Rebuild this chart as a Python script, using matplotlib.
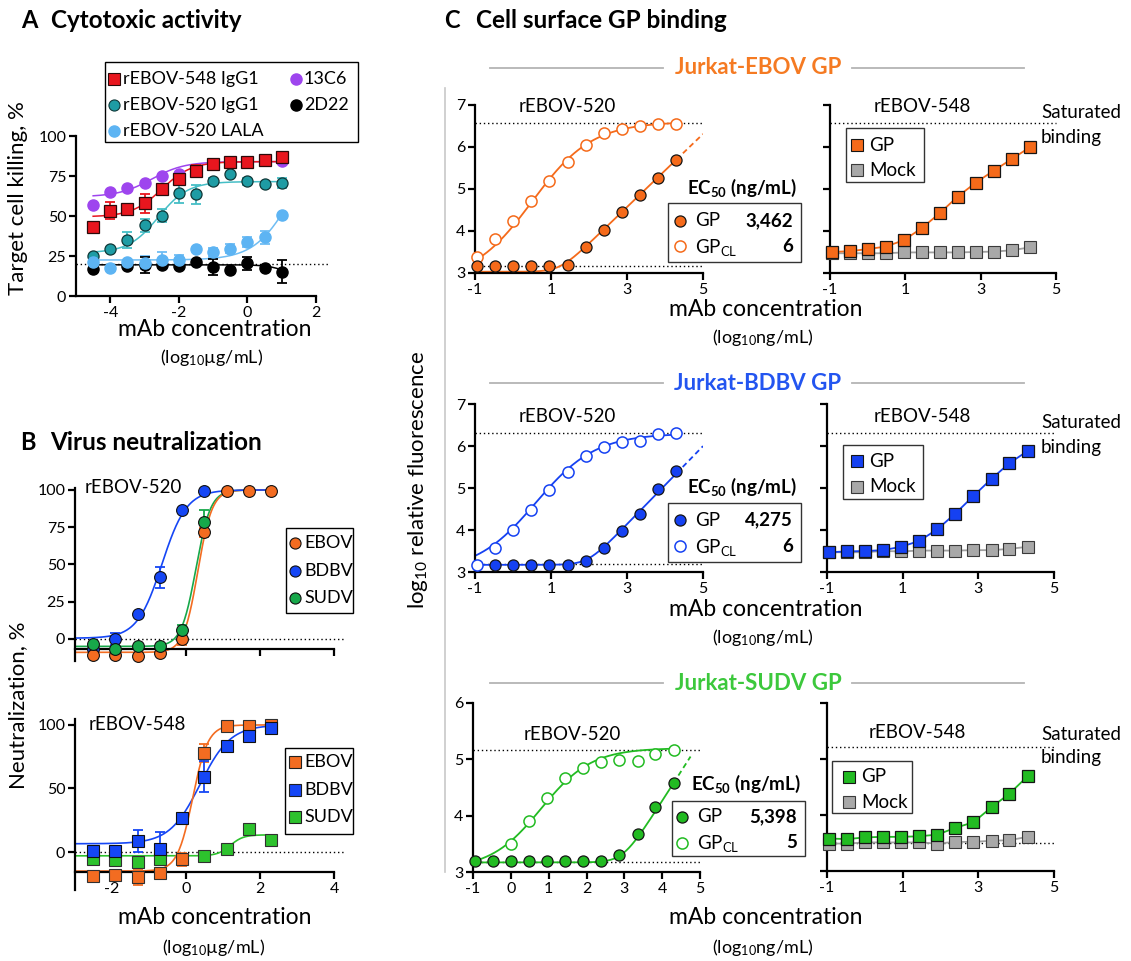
import numpy as np
import matplotlib
matplotlib.use("Agg")
import matplotlib.pyplot as plt
from matplotlib.lines import Line2D
from matplotlib.patches import Rectangle

plt.rcParams['font.family'] = ['Lato', 'DejaVu Sans']
plt.rcParams['mathtext.fontset'] = 'custom'
plt.rcParams['mathtext.rm'] = 'Lato'
plt.rcParams['mathtext.it'] = 'Lato:italic'
plt.rcParams['mathtext.bf'] = 'Lato:bold'
plt.rcParams['axes.unicode_minus'] = False

W, H = 1131, 961

# ======================= DATA =======================
# ---- Panel A: cytotoxic activity (log10 ug/mL vs % killing)
conc_A = [-4.5, -4, -3.5, -3, -2.5, -2, -1.5, -1, -0.5, 0, 0.5, 1]
kill_548 = [43.4, 53.4, 54.5, 58, 67, 73.3, 78.1, 82.3, 83.5, 83.7, 84.8, 86.6]
err_548 = [0, 5.5, 3, 6, 3, 3, 4, 2, 2, 2, 2, 2]
kill_520 = [25, 29.6, 35, 44.3, 50.1, 64.1, 63.5, 71.6, 76.4, 71.6, 69.9, 70.6]
err_520 = [0, 0, 5, 4, 4, 6, 6, 2, 0, 2, 0, 3]
kill_lala = [21, 17.5, 21.3, 20.7, 22.3, 22.5, 29.6, 27.2, 29.6, 33.6, 36.7, 50.9]
err_lala = [0, 0, 0, 4, 5, 3, 0, 3, 3, 3, 4, 0]
conc_13c6 = [-4.5, -4, -3.5, -3, -2.5, -2, 1]
kill_13c6 = [56.8, 65.3, 67.2, 70.8, 74.7, 76.4, 84.3]
conc_2d22 = [-4.5, -3.5, -3, -2.5, -2, -1.5, -1, -0.5, 0, 0.5, 1]
kill_2d22 = [16.7, 18.8, 19.4, 19.4, 19, 21.5, 18.4, 16.3, 20.5, 17.7, 15.2]
err_2d22 = [0, 0, 5, 0, 0, 0, 5, 0, 4, 0, 7]
# 4PL fit parameters [bottom, top, logEC50, hill]
fit_548 = [49.5, 84, -2.5, 1.0]
fit_520 = [27, 71.5, -2.6, 1.0]
fit_lala = [22.5, 100, 1.29, 0.8]
fit_13c6 = [62, 84, -2.8, 0.9]
fit_2d22 = [19.5, 10, 1.2, 1.5]
baseline_A = 20

# ---- Panel B: virus neutralization
conc_B = [-2.52, -1.92, -1.31, -0.71, -0.11, 0.49, 1.10, 1.70, 2.30]
neut520_ebov = [-11, -10.6, -11.7, -9.2, 0, 71.5, 99.5, 99.5, 99.5]
err520_ebov = [0, 0, 0, 0, 4, 3, 0, 0, 0]
neut520_bdbv = [-6.5, 0, 17, 41.3, 86.5, 99]
err520_bdbv = [0, 4, 0, 7, 0, 0]
neut520_sudv = [-3.1, -6.5, -5, -5, 5.8, 78.2]
err520_sudv = [0, 0, 0, 0, 3.5, 8.5]
fit520_ebov = [-9, 100, 0.32, 2.25]
fit520_bdbv = [0.5, 100, -0.65, 1.3]
fit520_sudv = [-5, 100, 0.27, 2.2]

neut548_ebov = [-19, -18, -19.8, -16.6, -5.8, 77.8, 99, 99.5, 100]
err548_ebov = [0, 0, 6, 0, 5, 7, 0, 0, 0]
neut548_bdbv = [0.5, 0.5, 8.7, 2.6, 26.9, 59.4, 83.6, 91, 97.6]
err548_bdbv = [0, 0, 9, 13, 4, 12, 0, 0, 0]
conc548_sudv = [-2.52, -1.92, -1.31, -0.71, 0.49, 1.10, 1.70, 2.30]
neut548_sudv = [-5.3, -6.6, -7.9, -5.3, -3.4, 2.6, 17.9, 9.2]
fit548_ebov = [-15, 100, 0.18, 2.1]
fit548_bdbv = [6.5, 100, 0.38, 1.06]
fit548_sudv = [-3, 13.5, 1.2, 2.5]

# ---- Panel C: cell surface GP binding (log10 ng/mL vs log10 fluorescence)
conc_C = [-0.95, -0.47, 0.01, 0.48, 0.96, 1.44, 1.92, 2.39, 2.87, 3.35, 3.82, 4.30]
ebov_gp = [3.16, 3.16, 3.16, 3.16, 3.16, 3.19, 3.63, 4.03, 4.46, 4.85, 5.26, 5.70]
ebov_gpcl = [3.37, 3.80, 4.25, 4.72, 5.19, 5.65, 6.05, 6.33, 6.42, 6.51, 6.55, 6.55]
ebov_548_gp = [3.50, 3.52, 3.57, 3.63, 3.78, 4.07, 4.43, 4.82, 5.15, 5.44, 5.71, 5.99]
ebov_548_mock = [3.47, 3.47, 3.47, 3.47, 3.49, 3.49, 3.49, 3.49, 3.50, 3.51, 3.54, 3.61]
bdbv_gp = [3.17, 3.17, 3.17, 3.17, 3.17, 3.27, 3.56, 3.98, 4.39, 4.98, 5.41]   # from 2nd conc
bdbv_gpcl = [3.17, 3.57, 4.01, 4.47, 4.96, 5.39, 5.77, 5.98, 6.10, 6.12, 6.28, 6.31]
bdbv_548_gp = [3.47, 3.49, 3.50, 3.52, 3.60, 3.74, 4.02, 4.39, 4.81, 5.22, 5.59, 5.88]
bdbv_548_mock = [3.47, 3.47, 3.47, 3.50, 3.49, 3.51, 3.51, 3.51, 3.52, 3.52, 3.55, 3.60]
sudv_gp = [3.19, 3.19, 3.19, 3.19, 3.19, 3.19, 3.19, 3.19, 3.31, 3.67, 4.15, 4.58]
sudv_gpcl = [3.49, 3.90, 4.32, 4.66, 4.85, 4.95, 4.98, 4.97, 5.09, 5.17]        # from 3rd conc
sudv_548_gp = [3.58, 3.57, 3.60, 3.61, 3.61, 3.62, 3.65, 3.77, 3.87, 4.14, 4.38, 4.69]
sudv_548_mock = [3.49, 3.49, 3.51, 3.51, 3.51, 3.51, 3.49, 3.52, 3.52, 3.54, 3.55, 3.61]
# partial-binding fit [baseline, slope, knee, sharpness]; GP_CL 4PL fits
ebov_gp_fit = [3.03, 0.87, 1.23, 2.0]
bdbv_gp_fit = [3.17, 0.93, 1.96, 2.0]
sudv_gp_fit = [3.17, 1.05, 2.96, 2.0]
ebov_cl_fit = [2.8, 6.6, 0.5, 0.55]
bdbv_cl_fit = [3.0, 6.3, 0.6, 0.55]
sudv_cl_fit = [3.05, 5.2, 0.8, 0.65]
ec50_ebov = ['3,462', '6']
ec50_bdbv = ['4,275', '6']
ec50_sudv = ['5,398', '5']
sat_ebov, sat_bdbv, sat_sudv, sat_sudv_R = 6.57, 6.30, 5.17, 5.22
base_ebov, base_bdbv, base_sudv = 3.16, 3.18, 3.18

# ======================= HELPERS =======================
fig = plt.figure(figsize=(W / 100, H / 100), dpi=100)


def rect(x0, y0, x1, y1):
    return [x0 / W, 1 - y1 / H, (x1 - x0) / W, (y1 - y0) / H]


def ftext(x, y, s, **kw):
    kw.setdefault('va', 'center')
    kw.setdefault('ha', 'left')
    kw.setdefault('zorder', 7)
    fig.text(x / W, 1 - y / H, s, **kw)


def fmarker(x, y, **kw):
    kw.setdefault('zorder', 7)
    fig.add_artist(Line2D([x / W], [1 - y / H], transform=fig.transFigure,
                          linestyle='none', **kw))


def fbox(x0, y0, x1, y1, ec='black', lw=1.0):
    fig.add_artist(Rectangle((x0 / W, 1 - y1 / H), (x1 - x0) / W, (y1 - y0) / H,
                             transform=fig.transFigure, facecolor='white',
                             edgecolor=ec, lw=lw, zorder=6))


def fline(x0, y0, x1, y1, **kw):
    fig.add_artist(Line2D([x0 / W, x1 / W], [1 - y0 / H, 1 - y1 / H],
                          transform=fig.transFigure, **kw))


def logistic(x, p):
    b, t, c, h = p
    return b + (t - b) / (1 + 10 ** ((c - x) * h))


def partial_fit(x, p):
    b, m, k, s = p
    return b + m * np.log10(1 + 10 ** (s * (x - k))) / s


def style_axes(ax, lw=1.6):
    for s in ('top', 'right'):
        ax.spines[s].set_visible(False)
    for s in ('left', 'bottom'):
        ax.spines[s].set_linewidth(lw)
    ax.tick_params(direction='out', length=5, width=lw, labelsize=11.5, pad=2)


def ebar(ax, x, y, e, color):
    x = np.asarray(x); y = np.asarray(y); e = np.asarray(e, float)
    m = e > 0
    if m.any():
        ax.errorbar(x[m], y[m], yerr=e[m], fmt='none', ecolor=color,
                    elinewidth=1.3, capsize=3.5, capthick=1.3, zorder=3, clip_on=False)


DOT = (0, (1, 2))

# ======================= PANEL A =======================
ftext(21, 21, 'A', fontsize=17, fontweight='bold')
ftext(51, 21, 'Cytotoxic activity', fontsize=17.5, fontweight='bold')
axA = fig.add_axes(rect(76, 136, 316, 296))
style_axes(axA)
axA.set_xlim(-5, 2)
axA.set_ylim(0, 100)
axA.set_xticks([-4, -2, 0, 2])
axA.set_yticks([0, 25, 50, 75, 100])
axA.plot([-5, 2.35], [baseline_A] * 2, color='black', lw=1.0, ls=DOT, clip_on=False, zorder=1)
xa = np.linspace(conc_A[0], conc_A[-1], 200)
RED, TEAL, TEAL_L, LBLUE, PURPLE = '#E8161E', '#1E9CA4', '#45BEC6', '#5DB4F3', '#9E45EE'
axA.plot(xa, logistic(xa, fit_13c6), color=PURPLE, lw=1.1, zorder=2)
axA.plot(xa, logistic(xa, fit_520), color=TEAL_L, lw=1.1, zorder=2)
axA.plot(xa, logistic(xa, fit_lala), color='#6FBDF3', lw=1.1, zorder=2)
axA.plot(xa, logistic(xa, fit_2d22), color='black', lw=1.1, zorder=2)
axA.plot(xa, logistic(xa, fit_548), color=RED, lw=1.1, zorder=2)
ebar(axA, conc_A, kill_520, err_520, TEAL_L)
ebar(axA, conc_A, kill_lala, err_lala, '#6FBDF3')
ebar(axA, conc_2d22, kill_2d22, err_2d22, 'black')
ebar(axA, conc_A, kill_548, err_548, RED)
axA.plot(conc_13c6, kill_13c6, 'o', ms=8, mfc=PURPLE, mec=PURPLE, zorder=4, clip_on=False)
axA.plot(conc_A, kill_520, 'o', ms=8, mfc=TEAL, mec='#103838', mew=0.9, zorder=4, clip_on=False)
axA.plot(conc_2d22, kill_2d22, 'o', ms=8, mfc='black', mec='black', zorder=4, clip_on=False)
axA.plot(conc_A, kill_lala, 'o', ms=8, mfc=LBLUE, mec=LBLUE, zorder=4, clip_on=False)
axA.plot(conc_A, kill_548, 's', ms=8, mfc=RED, mec='#2A0A0A', mew=0.9, zorder=5, clip_on=False)
ftext(18, 198, 'Target cell killing, %', fontsize=16, rotation=90, ha='center')
ftext(215, 330, 'mAb concentration', fontsize=16.5, ha='center')
ftext(212, 357, '(log$_{10}$\u00b5g/mL)', fontsize=13, ha='center')
# legend A
fbox(105, 62, 358, 142)
fmarker(114, 79, marker='s', ms=8, mfc=RED, mec='#2A0A0A', mew=0.8)
ftext(123, 79, 'rEBOV-548 IgG1', fontsize=13)
fmarker(114, 105, marker='o', ms=8, mfc=TEAL, mec='#103838', mew=0.8)
ftext(123, 105, 'rEBOV-520 IgG1', fontsize=13)
fmarker(114, 131, marker='o', ms=8, mfc=LBLUE, mec=LBLUE)
ftext(123, 131, 'rEBOV-520 LALA', fontsize=13)
fmarker(296, 79, marker='o', ms=8, mfc=PURPLE, mec=PURPLE)
ftext(304, 79, '13C6', fontsize=13)
fmarker(296, 105, marker='o', ms=8, mfc='black', mec='black')
ftext(304, 105, '2D22', fontsize=13)

# ======================= PANEL B =======================
ftext(20, 442, 'B', fontsize=17, fontweight='bold')
ftext(50, 442, 'Virus neutralization', fontsize=17.5, fontweight='bold')
B_OR, B_BL, B_GR, B_GR2 = '#F36C21', '#1546F5', '#17A84A', '#2DC22D'
xb = np.linspace(-3, conc_B[-1], 300)

axB1 = fig.add_axes(rect(75, 488, 334, 661))
style_axes(axB1)
axB1.set_xlim(-3, 4)
axB1.set_ylim(-14.8, 101.3)
axB1.spines['bottom'].set_position(('data', -7))
axB1.set_xticks([-2, 0, 2, 4])
axB1.tick_params(labelbottom=False)
axB1.set_yticks([0, 25, 50, 75, 100])
axB1.plot([-3, 4.3], [0, 0], color='black', lw=1.0, ls=DOT, clip_on=False, zorder=1)
axB1.plot(xb, logistic(xb, fit520_sudv), color=B_GR, lw=1.2, zorder=2)
axB1.plot(xb, logistic(xb, fit520_ebov), color=B_OR, lw=1.2, zorder=2)
axB1.plot(xb, logistic(xb, fit520_bdbv), color=B_BL, lw=1.2, zorder=2)
ebar(axB1, conc_B[:6], neut520_bdbv, err520_bdbv, B_BL)
ebar(axB1, conc_B[:6], neut520_sudv, err520_sudv, B_GR)
ebar(axB1, conc_B, neut520_ebov, err520_ebov, B_OR)
axB1.plot(conc_B[:6], neut520_bdbv, 'o', ms=8.5, mfc=B_BL, mec='#101010', mew=0.8, zorder=4, clip_on=False)
axB1.plot(conc_B, neut520_ebov, 'o', ms=8.5, mfc=B_OR, mec='#101010', mew=0.8, zorder=4, clip_on=False)
axB1.plot(conc_B[:6], neut520_sudv, 'o', ms=8.5, mfc=B_GR, mec='#101010', mew=0.8, zorder=5, clip_on=False)
ftext(85, 488, 'rEBOV-520', fontsize=13.5)
fbox(286, 528, 353, 613)
for yy, c, lab in [(543, B_OR, 'EBOV'), (571, B_BL, 'BDBV'), (598, B_GR, 'SUDV')]:
    fmarker(295, yy, marker='o', ms=8, mfc=c, mec='#101010', mew=0.8)
    ftext(304, yy, lab, fontsize=13)

axB2 = fig.add_axes(rect(75, 718.6, 334, 890))
style_axes(axB2)
axB2.set_xlim(-3, 4)
axB2.set_ylim(-29.9, 105)
axB2.spines['bottom'].set_position(('data', -16))
axB2.set_xticks([-2, 0, 2, 4])
axB2.set_yticks([0, 50, 100])
axB2.plot([-3, 4.3], [0, 0], color='black', lw=1.0, ls=DOT, clip_on=False, zorder=1)
axB2.plot(xb, logistic(xb, fit548_sudv), color=B_GR2, lw=1.2, zorder=2)
axB2.plot(xb, logistic(xb, fit548_bdbv), color=B_BL, lw=1.2, zorder=2)
axB2.plot(xb, logistic(xb, fit548_ebov), color=B_OR, lw=1.2, zorder=2)
ebar(axB2, conc_B, neut548_ebov, err548_ebov, B_OR)
ebar(axB2, conc_B, neut548_bdbv, err548_bdbv, B_BL)
axB2.plot(conc548_sudv, neut548_sudv, 's', ms=8.5, mfc=B_GR2, mec='#303030', mew=0.8, zorder=4, clip_on=False)
axB2.plot(conc_B, neut548_ebov, 's', ms=8.5, mfc=B_OR, mec='#303030', mew=0.8, zorder=4, clip_on=False)
axB2.plot(conc_B, neut548_bdbv, 's', ms=8.5, mfc=B_BL, mec='#101010', mew=0.8, zorder=5, clip_on=False)
ftext(89, 724, 'rEBOV-548', fontsize=13.5)
fbox(285, 748, 353, 834)
for yy, c, lab in [(762, B_OR, 'EBOV'), (790, B_BL, 'BDBV'), (817, B_GR2, 'SUDV')]:
    fmarker(295, yy, marker='s', ms=8, mfc=c, mec='#202020', mew=0.8)
    ftext(304, yy, lab, fontsize=13)
ftext(18, 705, 'Neutralization, %', fontsize=16, rotation=90, ha='center')
ftext(215, 917, 'mAb concentration', fontsize=16.5, ha='center')
ftext(214, 948, '(log$_{10}$\u00b5g/mL)', fontsize=13, ha='center')

# ======================= PANEL C =======================
ftext(444, 21, 'C', fontsize=17, fontweight='bold')
ftext(476, 21, 'Cell surface GP binding', fontsize=17.5, fontweight='bold')
C_OR, C_BL, C_GR = '#F56A1A', '#1541F2', '#22BB22'
T_OR, T_BL, T_GR = '#F57A22', '#2355F0', '#3CC83C'
MOCK, MOCK_L = '#A8A8A8', '#A0A0A0'
fline(445, 88, 445, 872, color='#C8C8C8', lw=1.2)
ftext(418, 480, 'log$_{10}$ relative fluorescence', fontsize=16, rotation=90, ha='center')

for yy, txt, col in [(68, 'Jurkat-EBOV GP', T_OR), (383, 'Jurkat-BDBV GP', T_BL),
                     (683, 'Jurkat-SUDV GP', T_GR)]:
    fline(490, yy, 663, yy, color='#B4B4B4', lw=1.3)
    fline(852, yy, 1024, yy, color='#B4B4B4', lw=1.3)
    ftext(758, yy, txt, fontsize=16, fontweight='bold', color=col, ha='center')


def left_panel(r, color, ylim, yticks, xticks, gp_x, gp_y, cl_x, cl_y, gp_p, gp_end,
               cl_p, sat, base, open_on_top):
    ax = fig.add_axes(rect(*r))
    style_axes(ax)
    ax.set_xlim(-1, 5)
    ax.set_ylim(*ylim)
    ax.set_xticks(xticks)
    ax.set_yticks(yticks)
    ax.plot([-1, 5], [sat, sat], color='black', lw=1.0, ls=DOT, zorder=1, clip_on=False)
    ax.plot([-1, 5], [base, base], color='black', lw=1.0, ls=DOT, zorder=1, clip_on=False)
    xs = np.linspace(-1, conc_C[-1], 300)
    xd = np.linspace(conc_C[-1], gp_end, 40)
    ax.plot(xs, partial_fit(xs, gp_p), color=color, lw=1.3, zorder=2)
    ax.plot(xd, partial_fit(xd, gp_p), color=color, lw=1.3, ls=(0, (3, 2)), zorder=2)
    ax.plot(xs, logistic(xs, cl_p), color=color, lw=1.3, zorder=2)
    zf, zo = (4, 5) if open_on_top else (5, 4)
    ax.plot(gp_x, gp_y, 'o', ms=8, mfc=color, mec='#151515', mew=0.9, zorder=zf, clip_on=False)
    ax.plot(cl_x, cl_y, 'o', ms=8, mfc='white', mec=color, mew=1.1, zorder=zo, clip_on=False)
    return ax


def right_panel(r, color, ylim, yticks, gp_y, mock_y, sat, base=None):
    ax = fig.add_axes(rect(*r))
    style_axes(ax)
    ax.set_xlim(-1, 5)
    ax.set_ylim(*ylim)
    ax.set_xticks([-1, 1, 3, 5])
    ax.set_yticks(yticks)
    ax.tick_params(labelleft=False)
    ax.plot([-1, 5], [sat, sat], color='black', lw=1.0, ls=DOT, zorder=1, clip_on=False)
    if base is not None:
        ax.plot([-1, 5], [base, base], color='black', lw=1.0, ls=DOT, zorder=1, clip_on=False)
    ax.plot(conc_C, mock_y, '-', color=MOCK_L, lw=1.3, zorder=2, clip_on=False)
    ax.plot(conc_C, mock_y, 's', ms=8, mfc=MOCK, mec='#3A3A3A', mew=0.8, zorder=3, clip_on=False)
    ax.plot(conc_C, gp_y, '-', color=color, lw=1.3, zorder=4, clip_on=False)
    ax.plot(conc_C, gp_y, 's', ms=8, mfc=color, mec='#151515', mew=0.9, zorder=5, clip_on=False)
    return ax


def ec50_box(box, header_y, row_y, mark_x, text_x, val_x, color, vals):
    x0, y0, x1, y1 = box
    fbox(x0, y0, x1, y1, ec='#333333', lw=1.0)
    ftext(x0 + 19, header_y, r'EC$_{\mathbf{50}}$ (ng/mL)', fontsize=13.5, fontweight='bold')
    fmarker(mark_x, row_y[0], marker='o', ms=8, mfc=color, mec='#151515', mew=0.9)
    fmarker(mark_x, row_y[1], marker='o', ms=8, mfc='white', mec=color, mew=1.1)
    ftext(text_x, row_y[0], 'GP', fontsize=13.5)
    ftext(text_x, row_y[1] + 1, r'GP$_{\mathrm{CL}}$', fontsize=13.5)
    ftext(val_x, row_y[0], vals[0], fontsize=13.5, fontweight='bold', ha='right')
    ftext(val_x, row_y[1], vals[1], fontsize=13.5, fontweight='bold', ha='right')


def gp_mock_legend(box, row_y, mark_x, text_x, color):
    x0, y0, x1, y1 = box
    fbox(x0, y0, x1, y1, ec='#333333', lw=1.0)
    fmarker(mark_x, row_y[0], marker='s', ms=8, mfc=color, mec='#151515', mew=0.8)
    fmarker(mark_x, row_y[1], marker='s', ms=8, mfc=MOCK, mec='#3A3A3A', mew=0.8)
    ftext(text_x, row_y[0], 'GP', fontsize=13.5)
    ftext(text_x, row_y[1], 'Mock', fontsize=13.5)


def saturated(x, y):
    ftext(x, y, 'Saturated', fontsize=13.5)
    ftext(x, y + 24, 'binding', fontsize=13.5)


# --- EBOV row
left_panel((475, 105, 703, 273), C_OR, (3, 7), [3, 4, 5, 6, 7], [-1, 1, 3, 5],
           conc_C, ebov_gp, conc_C, ebov_gpcl, ebov_gp_fit, 5.0, ebov_cl_fit,
           sat_ebov, base_ebov, False)
right_panel((830, 105, 1056, 273), C_OR, (3, 7), [3, 4, 5, 6, 7],
            ebov_548_gp, ebov_548_mock, sat_ebov)
ftext(567, 107, 'rEBOV-520', fontsize=13.5, ha='center')
ftext(922, 107, 'rEBOV-548', fontsize=13.5, ha='center')
saturated(1041, 113)
ec50_box((668, 203, 801, 262), 188, (221, 246), 680, 695, 793, C_OR, ec50_ebov)
gp_mock_legend((846, 128, 924, 182), (145, 170), 857, 869, C_OR)
ftext(766, 309, 'mAb concentration', fontsize=16.5, ha='center')
ftext(763, 338, '(log$_{10}$ng/mL)', fontsize=13, ha='center')

# --- BDBV row
left_panel((475, 404, 703, 572), C_BL, (3, 7), [3, 4, 5, 6, 7], [-1, 1, 3, 5],
           conc_C[1:], bdbv_gp, conc_C, bdbv_gpcl, bdbv_gp_fit, 5.0, bdbv_cl_fit,
           sat_bdbv, base_bdbv, True)
right_panel((827, 404, 1054, 572), C_BL, (3, 7), [3, 4, 5, 6, 7],
            bdbv_548_gp, bdbv_548_mock, sat_bdbv)
ftext(567, 417, 'rEBOV-520', fontsize=13.5, ha='center')
ftext(922, 417, 'rEBOV-548', fontsize=13.5, ha='center')
saturated(1041, 423)
ec50_box((668, 503, 801, 562), 487, (520, 546), 680, 695, 793, C_BL, ec50_bdbv)
gp_mock_legend((843, 445, 923, 499), (461, 487), 857, 869, C_BL)
ftext(766, 609, 'mAb concentration', fontsize=16.5, ha='center')
ftext(763, 638, '(log$_{10}$ng/mL)', fontsize=13, ha='center')

# --- SUDV row
left_panel((473, 703, 700, 872), C_GR, (3, 6), [3, 4, 5, 6], [-1, 0, 1, 2, 3, 4, 5],
           conc_C, sudv_gp, conc_C[2:], sudv_gpcl, sudv_gp_fit, 4.75, sudv_cl_fit,
           sat_sudv, base_sudv, False)
right_panel((827, 703, 1054, 871), C_GR, (3, 6), [3, 4, 5, 6],
            sudv_548_gp, sudv_548_mock, sat_sudv_R, base=3.50)
ftext(572, 735, 'rEBOV-520', fontsize=13.5, ha='center')
ftext(917, 733, 'rEBOV-548', fontsize=13.5, ha='center')
saturated(1041, 734)
ec50_box((672, 801, 805, 856), 784, (817, 843), 682, 697, 797, C_GR, ec50_sudv)
gp_mock_legend((832, 761, 912, 813), (777, 802), 849, 861, C_GR)
ftext(766, 918, 'mAb concentration', fontsize=16.5, ha='center')
ftext(763, 948, '(log$_{10}$ng/mL)', fontsize=13, ha='center')

fig.savefig('out.png', dpi=100)
